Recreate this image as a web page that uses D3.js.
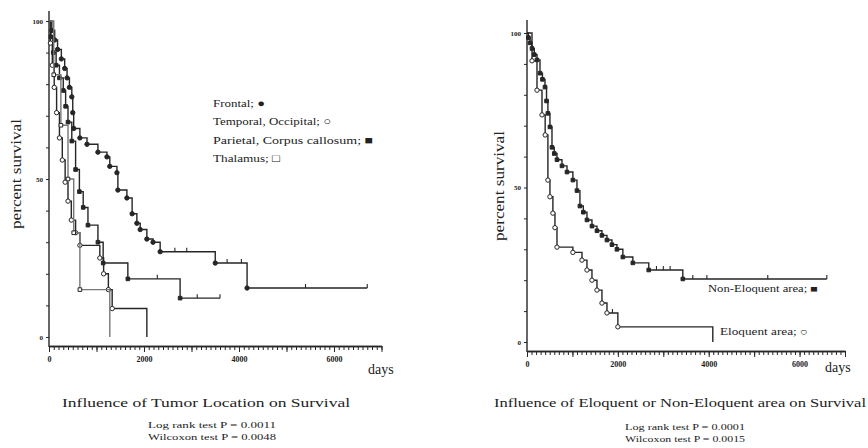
<!DOCTYPE html>
<html>
<head>
<meta charset="utf-8">
<script src="https://cdn.jsdelivr.net/npm/d3@7"></script>
<style>
  body { margin: 0; background: #fff; }
  text { font-family: "Liberation Serif", "DejaVu Serif", serif; fill: #222; }
</style>
</head>
<body>
<div id="chart"></div>
<script>
// survival curves, [days, percent surviving]
const frontal = [[0,100],[60,97],[120,94],[180,91],[260,88],[330,85],[380,82],[430,79],[480,76],[500,71],[520,66],[650,63],[800,61],[1030,58.5],[1220,57],[1280,54],[1430,52],[1450,46.5],[1640,44],[1750,39],[1850,36],[1920,34],[2060,31],[2190,30],[2340,27],[3500,23.4],[4170,15.5],[6700,15.5]];
const frontalCensor = [[2650,27],[2900,27],[3750,23.4],[4050,23.4],[5400,15.5],[6700,15.5]];
const temporal = [[0,100],[30,93],[70,86],[110,79],[160,71],[220,63],[280,56],[340,49],[400,43],[470,37],[560,33],[650,29],[1070,25],[1150,20],[1250,15],[1330,9],[2060,0]];
const temporalCensor = [];
const parietal = [[0,100],[40,95],[90,90],[150,86],[220,82],[300,78],[350,73],[400,68],[480,62],[560,53],[640,46],[720,41],[820,35.4],[1030,30],[1140,23.4],[1660,18.4],[2760,12.3],[3600,12.3]];
const parietalCensor = [[2280,18.4],[3120,12.3],[3600,12.3]];
const thalamus = [[0,100],[100,83],[250,67],[400,50],[520,33],[650,15],[1280,0]];
const thalamusCensor = [];

const nonEloquent = [[0,100],[30,98.5],[66,96.8],[110,95],[160,93],[220,91.3],[286,87],[340,85],[396,82.5],[430,78],[460,74],[505,69.6],[550,63],[600,61],[660,59],[770,57],[880,55],[1010,52.4],[1100,49],[1165,44],[1240,42],[1320,39.5],[1430,37.5],[1540,36],[1650,34.5],[1760,33],[1870,31.5],[1980,30],[2110,27.5],[2330,25.6],[2680,23.3],[3430,20.4],[6600,20.4]];
const nonEloquentCensor = [[2850,23.3],[3000,23.3],[3150,23.3],[3650,20.4],[3960,20.4],[5300,20.4],[6600,20.4]];
const eloquent = [[0,100],[110,91],[220,81.5],[330,73.5],[400,67],[460,52.4],[505,47],[570,41.7],[615,37],[660,30.7],[1010,29],[1210,26.5],[1320,23.3],[1430,20],[1540,16.8],[1650,12.6],[1760,9.4],[2000,4.9],[4090,0]];
const eloquentCensor = [[1880,9.4]];

const xLabels = [0, 2000, 4000, 6000];
const yLabels = [0, 50, 100];

const locationLegend = ["Frontal; ●", "Temporal, Occipital; ○", "Parietal, Corpus callosum; ■", "Thalamus; □"];
const areaLegend = ["Non-Eloquent area; ■", "Eloquent area; ○"];

const svg = d3.select("#chart").append("svg")
  .attr("width", 868).attr("height", 448);

const ink = "#262626";

function drawPanel(p) {
  const g = svg.append("g");
  const x = d3.scaleLinear().domain([0, 7000]).range(p.xr);
  const y = d3.scaleLinear().domain([0, 100]).range(p.yr);

  // axes
  g.append("line")
    .attr("x1", x(0)).attr("x2", x(0))
    .attr("y1", p.yTop).attr("y2", p.axisY + 1)
    .attr("stroke", ink).attr("stroke-width", 1.4);

  const minor = g.append("g")
    .attr("transform", "translate(0," + p.axisY + ")")
    .call(d3.axisBottom(x).tickValues(d3.range(0, 7001, 100)).tickSize(4).tickSizeOuter(0).tickFormat(""));
  const major = g.append("g")
    .attr("transform", "translate(0," + p.axisY + ")")
    .call(d3.axisBottom(x).tickValues(d3.range(0, 7001, 1000)).tickSize(6).tickSizeOuter(0)
      .tickFormat(d => xLabels.includes(d) ? d : ""));
  [minor, major].forEach(a => {
    a.select(".domain").attr("stroke", ink).attr("stroke-width", 1.4);
    a.selectAll(".tick line").attr("stroke", ink);
  });
  major.selectAll("text")
    .attr("y", 10).style("font-size", "8px").style("font-weight", "bold")
    .style("font-family", "Liberation Serif, serif");

  const yax = g.append("g")
    .attr("transform", "translate(" + x(0) + ",0)")
    .call(d3.axisLeft(y).tickValues(d3.range(0, 101, 10)).tickSize(3)
      .tickFormat(d => yLabels.includes(d) ? d : ""));
  yax.select(".domain").remove();
  yax.selectAll(".tick line").attr("stroke", ink);
  yax.selectAll("text").style("font-size", "7px").style("font-weight", "bold")
    .style("font-family", "Liberation Serif, serif");

  g.append("text")
    .attr("transform", "translate(" + p.ylabX + "," + p.ylabY + ") rotate(-90)")
    .attr("text-anchor", "middle")
    .attr("textLength", 110).attr("lengthAdjust", "spacingAndGlyphs")
    .style("font-size", "14px")
    .text("percent survival");

  g.append("text")
    .attr("x", p.daysX).attr("y", p.daysY)
    .style("font-size", "14px")
    .text("days");

  // curves
  const line = d3.line().x(d => x(d[0])).y(d => y(d[1])).curve(d3.curveStepAfter);
  p.series.forEach(s => {
    g.append("path")
      .datum(s.data)
      .attr("fill", "none")
      .attr("stroke", s.color || ink)
      .attr("stroke-width", 1.4)
      .attr("d", line);

    g.selectAll(null)
      .data(s.censor)
      .enter().append("line")
      .attr("x1", d => x(d[0])).attr("x2", d => x(d[0]))
      .attr("y1", d => y(d[1]) - 4).attr("y2", d => y(d[1]))
      .attr("stroke", ink).attr("stroke-width", 1.1);

    const pts = s.data.slice(1).filter(d => d[1] > 0 && !s.censor.some(c => c[0] === d[0]));
    const sym = d3.symbol().type(s.shape).size(s.shape === d3.symbolSquare ? 13 : 15);
    g.selectAll(null)
      .data(pts)
      .enter().append("path")
      .attr("transform", d => "translate(" + x(d[0]) + "," + y(d[1]) + ")")
      .attr("d", sym)
      .attr("fill", s.filled ? ink : "#fff")
      .attr("stroke", ink)
      .attr("stroke-width", 1);
  });

  // titles
  g.append("text")
    .attr("x", p.titleX).attr("y", p.titleY)
    .attr("text-anchor", "middle")
    .attr("textLength", p.titleW).attr("lengthAdjust", "spacingAndGlyphs")
    .style("font-size", "12.5px")
    .text(p.title);
  p.stats.forEach((t, i) => {
    g.append("text")
      .attr("x", p.statX).attr("y", p.statY + i * 12)
      .attr("text-anchor", "middle")
      .attr("textLength", p.statW).attr("lengthAdjust", "spacingAndGlyphs")
      .style("font-size", "8.5px")
      .text(t);
  });

  // legend
  p.legend.forEach((t, i) => {
    g.append("text")
      .attr("x", p.legendPos[i][0]).attr("y", p.legendPos[i][1])
      .attr("textLength", p.legendW[i]).attr("lengthAdjust", "spacingAndGlyphs")
      .style("font-size", p.legendSize)
      .text(t);
  });
}

drawPanel({
  xr: [49, 381.5], yr: [337, 21], axisY: 346, yTop: 11,
  ylabX: 21, ylabY: 174, daysX: 368, daysY: 374,
  series: [
    { data: frontal, censor: frontalCensor, shape: d3.symbolCircle, filled: true },
    { data: temporal, censor: temporalCensor, shape: d3.symbolCircle, filled: false },
    { data: parietal, censor: parietalCensor, shape: d3.symbolSquare, filled: true },
    { data: thalamus, censor: thalamusCensor, shape: d3.symbolSquare, filled: false, color: "#777" }
  ],
  title: "Influence of Tumor Location on Survival",
  titleX: 206, titleY: 407, titleW: 288,
  stats: ["Log rank test  P = 0.0011", "Wilcoxon test  P = 0.0048"],
  statX: 212, statY: 428, statW: 128,
  legend: locationLegend,
  legendPos: [[213, 107], [213, 125], [213, 144], [213, 162]],
  legendW: [52, 118, 160, 67],
  legendSize: "11px"
});

drawPanel({
  xr: [527, 845], yr: [342, 33], axisY: 351, yTop: 20,
  ylabX: 504, ylabY: 186, daysX: 825, daysY: 372,
  series: [
    { data: nonEloquent, censor: nonEloquentCensor, shape: d3.symbolSquare, filled: true },
    { data: eloquent, censor: eloquentCensor, shape: d3.symbolCircle, filled: false }
  ],
  title: "Influence of Eloquent or Non-Eloquent area on Survival",
  titleX: 680, titleY: 407, titleW: 372,
  stats: ["Log rank test  P = 0.0001", "Wilcoxon test  P = 0.0015"],
  statX: 685, statY: 430, statW: 120,
  legend: areaLegend,
  legendPos: [[708, 292], [720, 335]],
  legendW: [110, 88],
  legendSize: "9.5px"
});
</script>
</body>
</html>
